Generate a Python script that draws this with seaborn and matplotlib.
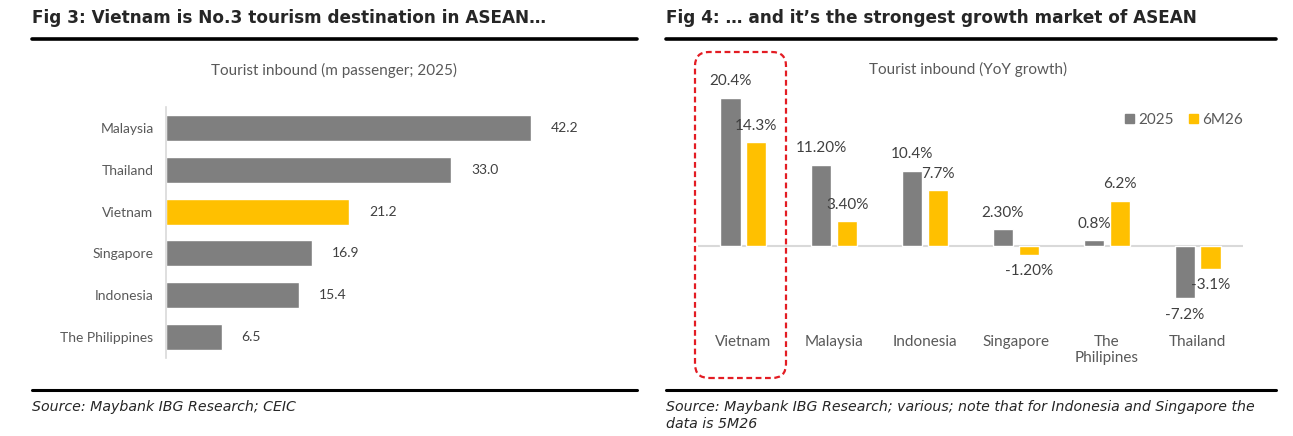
import matplotlib
matplotlib.use("Agg")
import matplotlib.pyplot as plt
import matplotlib.transforms as mtransforms
from matplotlib.lines import Line2D
from matplotlib.patches import FancyBboxPatch, Patch
import pandas as pd
import seaborn as sns

# --- data: Fig 3 (inbound tourists, m, 2025)
countries3 = ['Malaysia', 'Thailand', 'Vietnam', 'Singapore', 'Indonesia', 'The Philippines']
inbound = [42.2, 33.0, 21.2, 16.9, 15.4, 6.5]
inbound_labels = ['42.2', '33.0', '21.2', '16.9', '15.4', '6.5']

# --- data: Fig 4 (YoY growth, %)
countries4 = ['Vietnam', 'Malaysia', 'Indonesia', 'Singapore', 'The\nPhilipines', 'Thailand']
growth_2025 = [20.4, 11.2, 10.4, 2.3, 0.8, -7.2]
growth_6m26 = [14.3, 3.4, 7.7, -1.2, 6.2, -3.1]
labels_2025 = ['20.4%', '11.20%', '10.4%', '2.30%', '0.8%', '-7.2%']
labels_6m26 = ['14.3%', '3.40%', '7.7%', '-1.20%', '6.2%', '-3.1%']
series = ['2025', '6M26']

sns.set_style("white")
plt.rcParams['font.family'] = ['Lato', 'DejaVu Sans']

GREY = "#7f7f7f"
YELLOW = "#ffc000"
TXT = "#595959"
HEAD = ['DejaVu Sans']

W, H = 1293, 436
fig = plt.figure(figsize=(W / 100, H / 100), dpi=100)


def fx(px):
    return px / W


def fy(py):
    return 1 - py / H


# headers, rules and sources
fig.text(fx(32), fy(18), "Fig 3: Vietnam is No.3 tourism destination in ASEAN\u2026",
         fontsize=12.2, fontweight='bold', family=HEAD, va='center', ha='left')
fig.text(fx(666), fy(18), "Fig 4: \u2026 and it\u2019s the strongest growth market of ASEAN",
         fontsize=12.2, fontweight='bold', family=HEAD, va='center', ha='left')
for x0, x1 in [(32, 637), (666, 1276)]:
    fig.add_artist(Line2D([fx(x0), fx(x1)], [fy(39), fy(39)], lw=2.6, color='black',
                          transform=fig.transFigure))
    fig.add_artist(Line2D([fx(x0), fx(x1)], [fy(390), fy(390)], lw=2.2, color='black',
                          transform=fig.transFigure))
fig.text(fx(32), fy(407), "Source: Maybank IBG Research; CEIC",
         fontsize=10.2, style='italic', family=HEAD, va='center', ha='left')
fig.text(fx(666), fy(407), "Source: Maybank IBG Research; various; note that for Indonesia and Singapore the",
         fontsize=10.2, style='italic', family=HEAD, va='center', ha='left')
fig.text(fx(666), fy(424), "data is 5M26",
         fontsize=10.2, style='italic', family=HEAD, va='center', ha='left')

fig.text(fx(334), fy(70), "Tourist inbound (m passenger; 2025)", fontsize=11,
         color=TXT, ha='center', va='center')
fig.text(fx(968), fy(69), "Tourist inbound (YoY growth)", fontsize=11,
         color=TXT, ha='center', va='center')

# ---- left chart
ax1 = fig.add_axes([fx(166), fy(358), fx(620) - fx(166), fy(107) - fy(358)])
df3 = pd.DataFrame({'country': countries3, 'value': inbound})
pal3 = [YELLOW if c == 'Vietnam' else GREY for c in countries3]
sns.barplot(data=df3, x='value', y='country', hue='country', palette=pal3,
            width=0.62, legend=False, saturation=1, ax=ax1)
for cont, lab in zip(ax1.containers, inbound_labels):
    ax1.bar_label(cont, labels=[lab], padding=14, fontsize=10, color='#404040')
ax1.set_xlim(0, 454 / 8.65)
ax1.set_ylim(5.5, -0.5)
ax1.set_xlabel('')
ax1.set_ylabel('')
ax1.set_xticks([])
ax1.tick_params(axis='y', length=0, pad=9, labelsize=10, labelcolor=TXT)
for s in ['top', 'right', 'bottom']:
    ax1.spines[s].set_visible(False)
ax1.spines['left'].set_color('#d9d9d9')
ax1.spines['left'].set_linewidth(1.2)

# ---- right chart
ax2 = fig.add_axes([fx(698), fy(328), fx(1243) - fx(698), fy(60) - fy(328)])
df4 = pd.DataFrame({
    'country': countries4 * 2,
    'series': [series[0]] * len(countries4) + [series[1]] * len(countries4),
    'value': growth_2025 + growth_6m26,
})
sns.barplot(data=df4, x='country', y='value', hue='series', palette=[GREY, YELLOW],
            width=0.57, gap=0.22, saturation=1, legend=False, ax=ax2)
for cont, labs in zip(ax2.containers, [labels_2025, labels_6m26]):
    ax2.bar_label(cont, labels=labs, padding=7, fontsize=11, color='#404040')
ax2.axhline(0, color='#d9d9d9', lw=1.5, zorder=0)
ax2.set_xlim(-0.5, 5.5)
ax2.set_ylim(-11.3, 25.66)
ax2.set_xlabel('')
ax2.set_ylabel('')
ax2.set_yticks([])
ax2.tick_params(axis='x', length=0, pad=5, labelsize=11, labelcolor=TXT)
for s in ax2.spines.values():
    s.set_visible(False)

handles = [Patch(color=GREY, label=series[0]), Patch(color=YELLOW, label=series[1])]
leg = fig.legend(handles=handles, loc='center left', bbox_to_anchor=(fx(1125), fy(120)),
                 ncol=2, frameon=False, fontsize=11, handlelength=0.6, handleheight=0.6,
                 handletextpad=0.25, columnspacing=1.0, borderaxespad=0, borderpad=0)
for t in leg.get_texts():
    t.set_color(TXT)

# red dashed highlight around Vietnam
box = FancyBboxPatch((695, H - 378), 91, 378 - 52,
                     boxstyle="round,pad=0,rounding_size=14",
                     transform=mtransforms.IdentityTransform(),
                     fill=False, edgecolor='#e31c23', lw=1.6,
                     linestyle=(0, (2.6, 1.6)))
fig.add_artist(box)

fig.savefig('out.png', dpi=100)
